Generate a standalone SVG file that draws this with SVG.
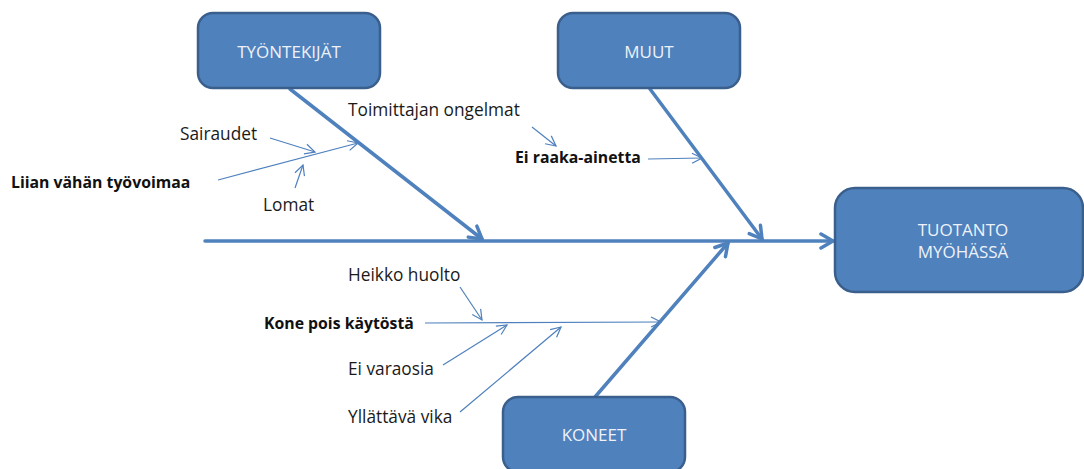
<svg xmlns="http://www.w3.org/2000/svg" width="1084" height="469" viewBox="0 0 1084 469">
<style>
.box{fill:#4F81BD;stroke:#3A5F8C;stroke-width:2.5}
.bt{font-family:"Open Sans","Liberation Sans",sans-serif;font-size:17px;fill:#EEF2F8;text-anchor:middle}
.lt{font-family:"Open Sans","Liberation Sans",sans-serif;font-size:17.3px;fill:#1a1a1a}
.bl{font-family:"Open Sans","Liberation Sans",sans-serif;font-size:15.8px;font-weight:bold;fill:#111}
.thick{stroke:#4F81BD;stroke-width:3.5;fill:none;stroke-linecap:round}
.thin{stroke:#4F81BD;stroke-width:1.2;fill:none}
</style>
<defs>
<marker id="ah" markerUnits="userSpaceOnUse" markerWidth="12" markerHeight="12" refX="11" refY="6" orient="auto">
<path d="M1,1 L11,6 L1,11" fill="none" stroke="#4F81BD" stroke-width="1.2"/>
</marker>
<marker id="AH" markerUnits="userSpaceOnUse" markerWidth="18" markerHeight="18" refX="15" refY="9" orient="auto">
<path d="M3,2 L15,9 L3,16" fill="none" stroke="#4F81BD" stroke-width="3.5" stroke-linecap="round" stroke-linejoin="round"/>
</marker>
</defs>
<g id="connectors">
<line class="thick" x1="205" y1="241" x2="833" y2="241" marker-end="url(#AH)"/>
<line class="thick" x1="290" y1="89" x2="482" y2="239" marker-end="url(#AH)"/>
<line class="thick" x1="650" y1="89" x2="762" y2="239" marker-end="url(#AH)"/>
<line class="thick" x1="595" y1="397" x2="728" y2="243" marker-end="url(#AH)"/>
<line class="thin" x1="270" y1="138" x2="315" y2="152" marker-end="url(#ah)"/>
<line class="thin" x1="218" y1="180" x2="358" y2="143" marker-end="url(#ah)"/>
<line class="thin" x1="295" y1="188" x2="303" y2="165" marker-end="url(#ah)"/>
<line class="thin" x1="532" y1="127" x2="556" y2="146" marker-end="url(#ah)"/>
<line class="thin" x1="648" y1="159" x2="702" y2="158" marker-end="url(#ah)"/>
<line class="thin" x1="460" y1="287" x2="482" y2="320" marker-end="url(#ah)"/>
<line class="thin" x1="425" y1="323" x2="661" y2="322" marker-end="url(#ah)"/>
<line class="thin" x1="443" y1="365" x2="507" y2="325" marker-end="url(#ah)"/>
<line class="thin" x1="460" y1="412" x2="561" y2="327" marker-end="url(#ah)"/>
</g>
<g id="tyontekijat">
<rect class="box" x="198" y="13" width="182" height="75" rx="15"/>
<text class="bt" x="289" y="58">TYÖNTEKIJÄT</text>
</g>
<g id="muut">
<rect class="box" x="558" y="13" width="182" height="75" rx="15"/>
<text class="bt" x="649" y="58">MUUT</text>
</g>
<g id="koneet">
<rect class="box" x="503" y="397" width="182" height="75" rx="15"/>
<text class="bt" x="594" y="441">KONEET</text>
</g>
<g id="tuotanto">
<rect class="box" x="835" y="188" width="248" height="104" rx="20"/>
<text class="bt" x="963" y="236">TUOTANTO</text>
<text class="bt" x="963" y="258">MYÖHÄSSÄ</text>
</g>
<g id="labels">
<text class="lt" x="180" y="140">Sairaudet</text>
<text class="bl" x="11" y="188">Liian vähän työvoimaa</text>
<text class="lt" x="263" y="211">Lomat</text>
<text class="lt" x="348" y="116">Toimittajan ongelmat</text>
<text class="bl" x="515" y="163">Ei raaka-ainetta</text>
<text class="lt" x="348" y="281">Heikko huolto</text>
<text class="bl" x="264" y="329">Kone pois käytöstä</text>
<text class="lt" x="348" y="375">Ei varaosia</text>
<text class="lt" x="348" y="423">Yllättävä vika</text>
</g>
</svg>
